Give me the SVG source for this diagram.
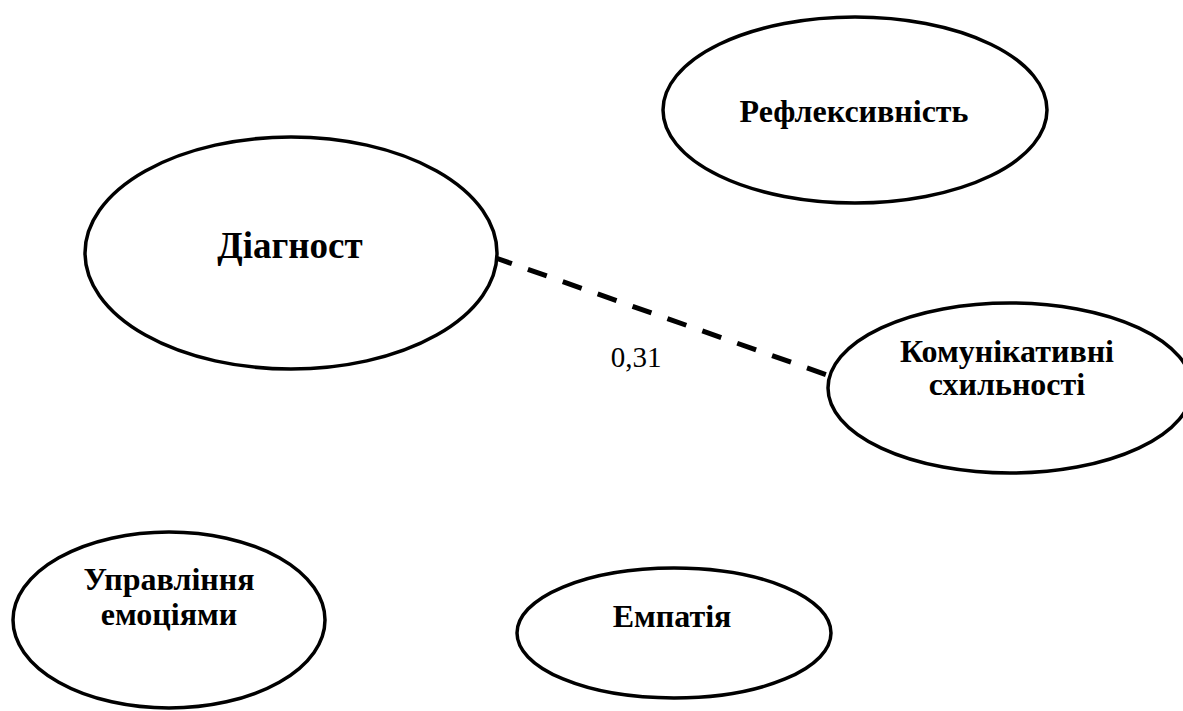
<svg xmlns="http://www.w3.org/2000/svg" width="1183" height="711" viewBox="0 0 1183 711">
  <style>
    .node { fill: #ffffff; stroke: #000000; stroke-width: 3.5; }
    .lbl { font-family: "Liberation Serif", "Times New Roman", serif; font-weight: bold; font-size: 32px; fill: #000000; text-anchor: middle; }
    .big { font-size: 37px; }
    .edge { stroke: #000000; stroke-width: 5; stroke-dasharray: 20 17; fill: none; }
    .elbl { font-family: "Liberation Serif", "Times New Roman", serif; font-size: 29px; fill: #000000; text-anchor: middle; }
  </style>
  <rect x="0" y="0" width="1183" height="711" fill="#ffffff"/>

  <!-- connectors -->
  <g id="connectors">
    <line class="edge" x1="493" y1="257" x2="830" y2="376"/>
    <text class="elbl" x="636" y="367">0,31</text>
  </g>

  <g id="node-reflexivity">
    <ellipse class="node" cx="855" cy="110" rx="192" ry="93"/>
    <text class="lbl" x="854" y="122">Рефлексивність</text>
  </g>

  <g id="node-diagnost">
    <ellipse class="node" cx="291" cy="253" rx="206" ry="116"/>
    <text class="lbl big" x="290" y="258">Діагност</text>
  </g>

  <g id="node-communicative">
    <ellipse class="node" cx="1010" cy="388" rx="182" ry="85"/>
    <text class="lbl" x="1007" y="362">Комунікативні</text>
    <text class="lbl" x="1007" y="395">схильності</text>
  </g>

  <g id="node-emotions">
    <ellipse class="node" cx="169" cy="620" rx="156" ry="88"/>
    <text class="lbl" x="169" y="590">Управління</text>
    <text class="lbl" x="169" y="625">емоціями</text>
  </g>

  <g id="node-empathy">
    <ellipse class="node" cx="674" cy="633" rx="157" ry="65"/>
    <text class="lbl" x="672" y="627">Емпатія</text>
  </g>
</svg>
